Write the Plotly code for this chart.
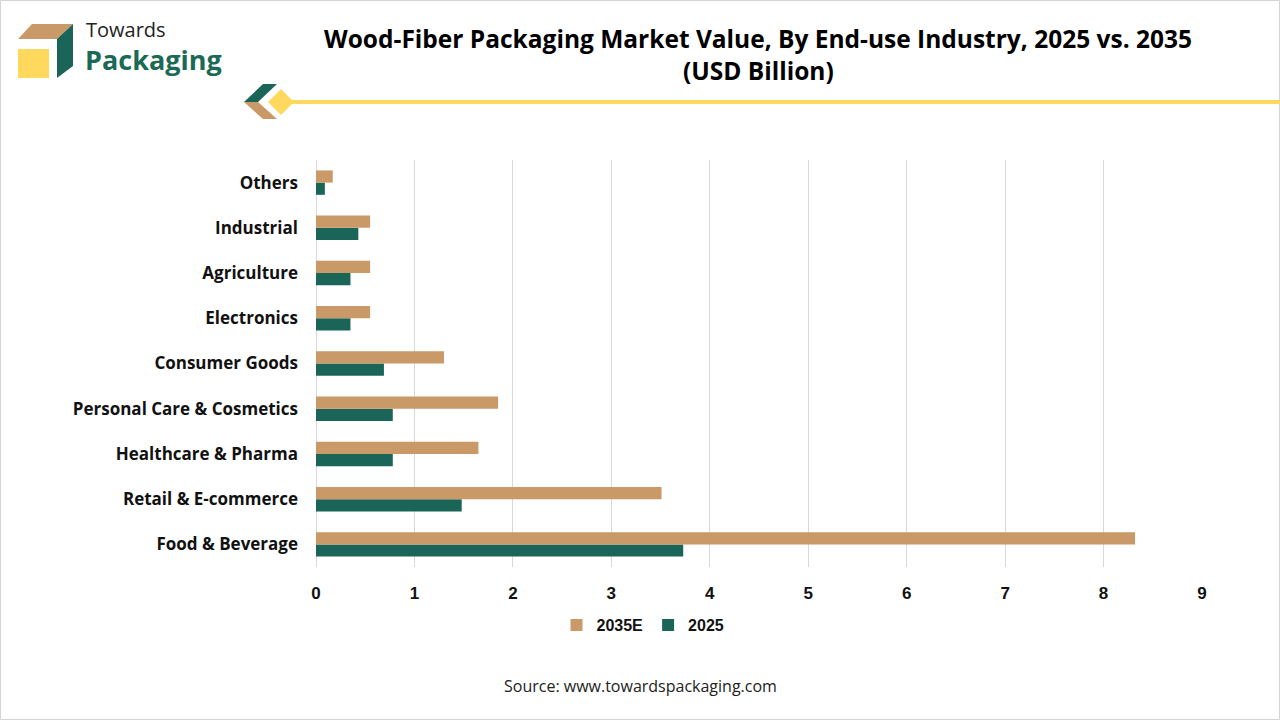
import plotly.graph_objects as go

categories = ["Food & Beverage", "Retail & E-commerce", "Healthcare & Pharma",
              "Personal Care & Cosmetics", "Consumer Goods", "Electronics",
              "Agriculture", "Industrial", "Others"]
values_2035 = [8.32, 3.51, 1.65, 1.85, 1.30, 0.55, 0.55, 0.55, 0.17]
values_2025 = [3.73, 1.48, 0.78, 0.78, 0.69, 0.35, 0.35, 0.43, 0.09]
x_ticks = [0, 1, 2, 3, 4, 5, 6, 7, 8, 9]

TAN = "#C99A68"
GREEN = "#1B6558"
YELLOW = "#FFD85E"

W, H = 1280, 720
L, R, T, B = 316, 1202, 160, 567


def px(x):
    return (x - L) / (R - L)


def py(y):
    return (B - y) / (B - T)


fig = go.Figure()
fig.add_trace(go.Bar(y=categories, x=values_2025, orientation="h", name="2025",
                     marker=dict(color=GREEN, line=dict(width=0))))
fig.add_trace(go.Bar(y=categories, x=values_2035, orientation="h", name="2035E",
                     marker=dict(color=TAN, line=dict(width=0))))

shapes = []
shapes.append(dict(type="rect", xref="paper", yref="paper",
                   x0=px(0.5), x1=px(W - 0.5), y0=py(0.5), y1=py(H - 0.5),
                   line=dict(color="#D4D4D4", width=1), fillcolor="rgba(0,0,0,0)", layer="below"))


def poly(pts, color):
    path = "M " + " L ".join(f"{px(a)},{py(b)}" for a, b in pts) + " Z"
    return dict(type="path", xref="paper", yref="paper", path=path,
                fillcolor=color, line=dict(width=0), layer="above")


shapes.append(poly([(18, 39), (32, 24), (73, 24), (57, 39)], TAN))
shapes.append(poly([(57, 39), (73, 24), (73, 66), (57, 78)], GREEN))
shapes.append(poly([(18, 49), (49, 49), (49, 78), (18, 78)], YELLOW))
shapes.append(dict(type="line", xref="paper", yref="paper",
                   x0=px(290), x1=px(1280), y0=py(102), y1=py(102),
                   line=dict(color=YELLOW, width=4)))
shapes.append(poly([(244, 102), (263, 84), (277, 84), (258, 102)], GREEN))
shapes.append(poly([(244, 102), (258, 102), (277, 119), (263, 119)], TAN))
shapes.append(poly([(268, 102), (281, 89), (294, 102), (281, 115)], YELLOW))

annotations = [
    dict(text="Wood-Fiber Packaging Market Value, By End-use Industry, 2025 vs. 2035",
         xref="paper", yref="paper", x=px(758), y=py(39), xanchor="center", yanchor="middle",
         showarrow=False, font=dict(family="Open Sans", size=24.5, color="#000000", weight="bold")),
    dict(text="(USD Billion)",
         xref="paper", yref="paper", x=px(758), y=py(71), xanchor="center", yanchor="middle",
         showarrow=False, font=dict(family="Open Sans", size=24.5, color="#000000", weight="bold")),
    dict(text="Towards", xref="paper", yref="paper", x=px(84), y=py(30),
         xanchor="left", yanchor="middle", showarrow=False,
         font=dict(family="Open Sans", size=20, color="#222222")),
    dict(text="Packaging", xref="paper", yref="paper", x=px(83), y=py(60),
         xanchor="left", yanchor="middle", showarrow=False,
         font=dict(family="Open Sans", size=27, color="#1B6A56", weight="bold")),
    dict(text="Source: www.towardspackaging.com", xref="paper", yref="paper",
         x=px(640), y=py(686), xanchor="center", yanchor="middle", showarrow=False,
         font=dict(family="Open Sans", size=16, color="#222222")),
]

fig.update_layout(
    width=W, height=H,
    margin=dict(l=L, r=W - R, t=T, b=H - B, pad=0),
    paper_bgcolor="white", plot_bgcolor="white",
    barmode="group", bargap=0.46, bargroupgap=0.0,
    showlegend=True,
    legend=dict(orientation="h", traceorder="reversed", x=px(643), y=py(625),
                xanchor="center", yanchor="middle",
                font=dict(family="Liberation Sans", size=16, color="#111111", weight="bold"),
                itemwidth=30, bgcolor="rgba(0,0,0,0)"),
    xaxis=dict(range=[0, 9], tickvals=x_ticks, ticktext=[str(v) for v in x_ticks],
               showgrid=True, gridcolor="#D9D9D9", gridwidth=1,
               zeroline=True, zerolinecolor="#D9D9D9", zerolinewidth=1,
               showline=False, ticks="", ticklabelstandoff=14,
               tickfont=dict(family="Liberation Sans", size=17, color="#111111", weight="bold"),
               fixedrange=True),
    yaxis=dict(categoryorder="array", categoryarray=categories,
               showgrid=False, zeroline=False, showline=False, ticks="",
               ticklabelstandoff=17,
               tickfont=dict(family="Open Sans", size=17, color="#111111", weight="bold"),
               fixedrange=True),
    shapes=shapes,
    annotations=annotations,
)

fig.write_html("out.html", config={"displayModeBar": False},
               post_script="document.body.style.margin='0';document.body.style.overflow='hidden';")
